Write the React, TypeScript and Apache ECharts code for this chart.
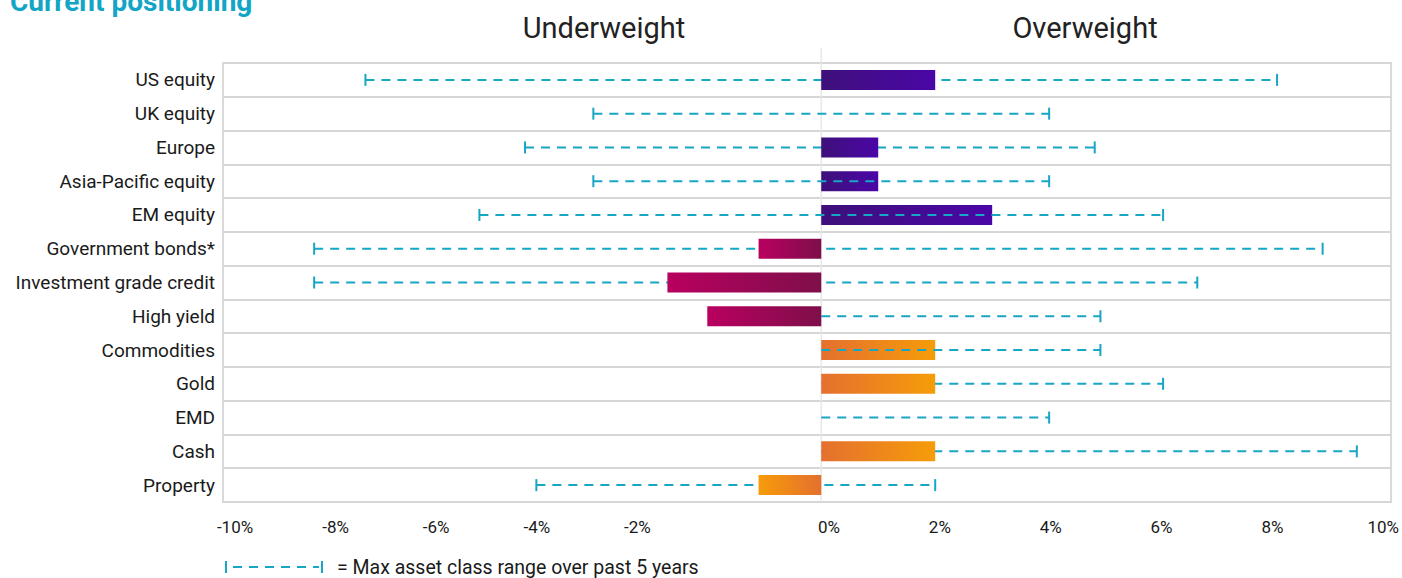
import React, { useEffect, useRef } from "react";
import * as echarts from "echarts";

const categories = [
  "US equity",
  "UK equity",
  "Europe",
  "Asia-Pacific equity",
  "EM equity",
  "Government bonds*",
  "Investment grade credit",
  "High yield",
  "Commodities",
  "Gold",
  "EMD",
  "Cash",
  "Property",
];
const positions = [2, 0, 1, 1, 3, -1.1, -2.7, -2, 2, 2, 0, 2, -1.1];
const rangeMin = [-8, -4, -5.2, -4, -6, -8.9, -8.9, 0, 0, 0, 0, 0, -5];
const rangeMax = [8, 4, 4.8, 4, 6, 8.8, 6.6, 4.9, 4.9, 6, 4, 9.4, 2];
const groups = [
  "equity", "equity", "equity", "equity", "equity",
  "bond", "bond", "bond",
  "real", "real", "real", "real", "real",
];
const lineInFront = [false, false, false, true, true, false, false, false, true, false, false, false, false];

const leftTickMin = -10;
const leftTickMax = 0;
const rightTickMin = 0;
const rightTickMax = 10;
const tickStep = 2;

const palette: Record<string, [string, string]> = {
  equity: ["#3e107a", "#4b06a7"],
  bond: ["#7e0f4a", "#b9005f"],
  real: ["#e4702f", "#f69c09"],
};
const TEAL = "#17a6c3";
const FONT = "Roboto";

function barItem(v: number, g: string) {
  const [near, far] = palette[g];
  const stops =
    v >= 0
      ? [{ offset: 0, color: near }, { offset: 1, color: far }]
      : [{ offset: 0, color: far }, { offset: 1, color: near }];
  return {
    value: v,
    itemStyle: { color: new echarts.graphic.LinearGradient(0, 0, 1, 0, stops) },
  };
}

function rangeRender(params: any, api: any) {
  const lo = api.value(0);
  const hi = api.value(1);
  const idx = api.value(2);
  const p0 = api.coord([lo, idx]);
  const p1 = api.coord([hi, idx]);
  const y = p0[1];
  const children: any[] = [
    {
      type: "line",
      shape: { x1: p0[0], y1: y, x2: p1[0], y2: y },
      style: { stroke: TEAL, lineWidth: 2, lineDash: [9, 7] },
    },
  ];
  if (lo !== 0)
    children.push({
      type: "line",
      shape: { x1: p0[0], y1: y - 6, x2: p0[0], y2: y + 6 },
      style: { stroke: TEAL, lineWidth: 2 },
    });
  if (hi !== 0)
    children.push({
      type: "line",
      shape: { x1: p1[0], y1: y - 6, x2: p1[0], y2: y + 6 },
      style: { stroke: TEAL, lineWidth: 2 },
    });
  return { type: "group", children };
}

export default function App() {
  const ref = useRef<HTMLDivElement>(null);
  useEffect(() => {
    if (!ref.current) return;
    const chart = echarts.init(ref.current, null, { renderer: "svg" });
    const backData: any[] = [];
    const frontData: any[] = [];
    categories.forEach((_, i) => {
      const row = [rangeMin[i], rangeMax[i], i];
      (lineInFront[i] ? frontData : backData).push(row);
    });
    const hiddenY = { type: "value", show: false };
    const labelAxisBase = {
      type: "value",
      interval: tickStep,
      axisLine: { show: false },
      axisTick: { show: false },
      splitLine: { show: false },
    };
    chart.setOption({
      animation: false,
      textStyle: { fontFamily: FONT },
      grid: [
        {
          left: 223,
          right: 11,
          top: 63,
          bottom: 76,
          show: true,
          borderColor: "#d9d9d9",
          borderWidth: 2,
        },
        { left: 235, width: 503, top: 63, bottom: 76 },
        { left: 829, width: 558, top: 63, bottom: 76 },
      ],
      xAxis: [
        { type: "value", min: -10.5, max: 10, show: false, gridIndex: 0 },
        {
          ...labelAxisBase,
          gridIndex: 1,
          min: leftTickMin,
          max: leftTickMax,
          axisLabel: {
            margin: 16,
            fontSize: 17,
            color: "#1a1a1a",
            fontFamily: FONT,
            formatter: (v: number) => (v < 0 ? v + "%" : ""),
          },
        },
        {
          ...labelAxisBase,
          gridIndex: 2,
          min: rightTickMin,
          max: rightTickMax,
          axisLabel: {
            margin: 16,
            fontSize: 17,
            color: "#1a1a1a",
            fontFamily: FONT,
            formatter: (v: number) => v + "%",
          },
        },
      ],
      yAxis: [
        {
          type: "category",
          data: categories,
          inverse: true,
          gridIndex: 0,
          axisLine: { show: false },
          axisTick: { show: false },
          axisLabel: { fontSize: 19, color: "#1a1a1a", margin: 8, fontFamily: FONT },
          splitLine: {
            show: true,
            interval: 0,
            lineStyle: { color: "#d6d6d6", width: 2 },
          },
        },
        { ...hiddenY, gridIndex: 1 },
        { ...hiddenY, gridIndex: 2 },
      ],
      series: [
        {
          type: "custom",
          name: "range-back",
          xAxisIndex: 0,
          yAxisIndex: 0,
          z: 3,
          renderItem: rangeRender,
          encode: { x: [0, 1], y: 2 },
          data: backData,
        },
        {
          type: "bar",
          name: "position",
          xAxisIndex: 0,
          yAxisIndex: 0,
          z: 4,
          barWidth: 20,
          data: positions.map((v, i) => barItem(v, groups[i])),
        },
        {
          type: "custom",
          name: "range-front",
          xAxisIndex: 0,
          yAxisIndex: 0,
          z: 5,
          renderItem: rangeRender,
          encode: { x: [0, 1], y: 2 },
          data: frontData,
        },
      ],
    });
    const x0 = chart.convertToPixel({ xAxisIndex: 0 }, 0) as number;
    chart.setOption({
      graphic: [
        {
          type: "line",
          z: 1,
          shape: { x1: x0, y1: 48, x2: x0, y2: 502 },
          style: { stroke: "#e8e8e8", lineWidth: 1.5 },
        },
        {
          type: "text",
          x: 10,
          y: 15,
          style: {
            text: "Current positioning",
            font: `bold 28px ${FONT}`,
            fill: "#12a5c6",
            verticalAlign: "bottom",
          },
        },
        {
          type: "text",
          x: 604,
          y: 28,
          style: {
            text: "Underweight",
            font: `29px ${FONT}`,
            fill: "#222",
            align: "center",
            verticalAlign: "middle",
          },
        },
        {
          type: "text",
          x: 1085,
          y: 28,
          style: {
            text: "Overweight",
            font: `29px ${FONT}`,
            fill: "#222",
            align: "center",
            verticalAlign: "middle",
          },
        },
        {
          type: "line",
          shape: { x1: 233, y1: 567, x2: 319, y2: 567 },
          style: { stroke: TEAL, lineWidth: 2, lineDash: [9, 7] },
        },
        {
          type: "line",
          shape: { x1: 226, y1: 561, x2: 226, y2: 573 },
          style: { stroke: TEAL, lineWidth: 2 },
        },
        {
          type: "line",
          shape: { x1: 322, y1: 561, x2: 322, y2: 573 },
          style: { stroke: TEAL, lineWidth: 2 },
        },
        {
          type: "text",
          x: 337,
          y: 567,
          style: {
            text: "= Max asset class range over past 5 years",
            font: `19.5px ${FONT}`,
            fill: "#1a1a1a",
            verticalAlign: "middle",
          },
        },
      ],
    });
    return () => chart.dispose();
  }, []);
  return (
    <div
      ref={ref}
      style={{ position: "fixed", left: 0, top: 0, width: 1402, height: 578, background: "#fff" }}
    />
  );
}
